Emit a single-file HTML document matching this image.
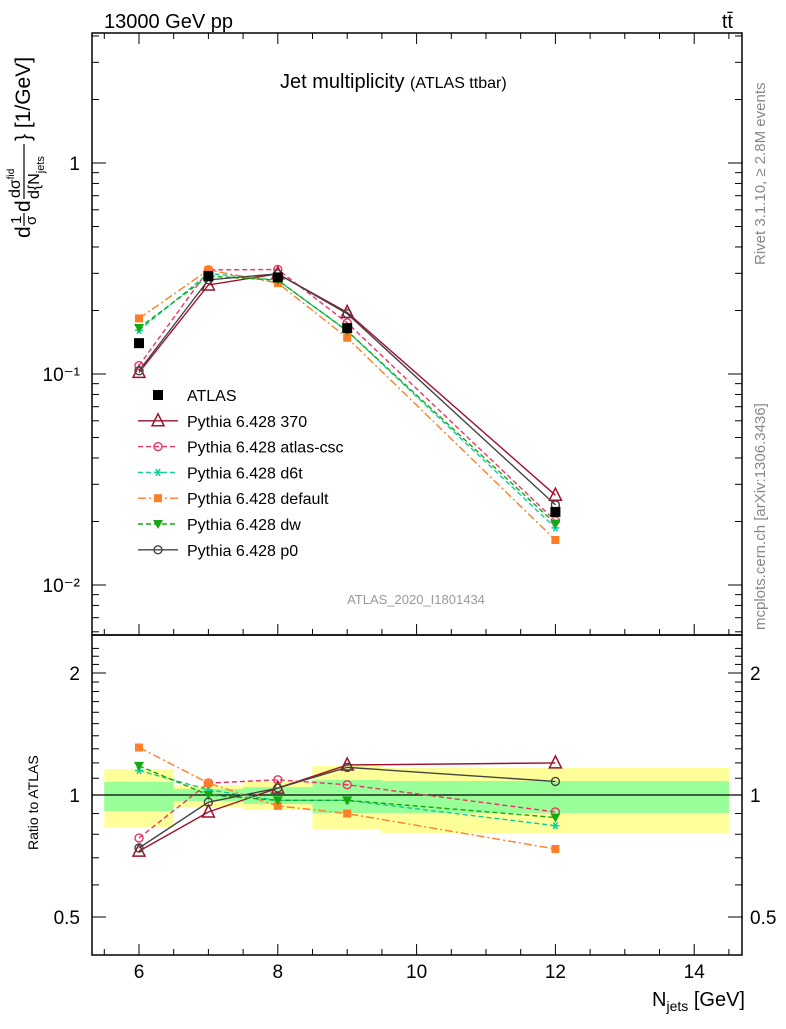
<!DOCTYPE html>
<html><head><meta charset="utf-8"><style>
body{margin:0;background:#fff;font-family:"Liberation Sans",sans-serif}
svg text{font-family:"Liberation Sans",sans-serif}
</style></head><body>
<svg id="c" width="786" height="1024" xmlns="http://www.w3.org/2000/svg">
<text x="104" y="28" font-size="20">13000 GeV pp</text>
<text x="733" y="28" font-size="20" text-anchor="end">tt̄</text>
<text x="280" y="88" font-size="20">Jet multiplicity <tspan font-size="16">(ATLAS ttbar)</tspan></text>
<text x="416" y="604" font-size="13" fill="#999" text-anchor="middle">ATLAS_2020_I1801434</text>
<text transform="translate(765,265) rotate(-90)" font-size="15" fill="#888">Rivet 3.1.10, ≥ 2.8M events</text>
<text transform="translate(765,630) rotate(-90)" font-size="15" fill="#888">mcplots.cern.ch [arXiv:1306.3436]</text>
<g transform="translate(0,240) rotate(-90)">
<text x="2" y="30" font-size="21">d</text>
<text x="16" y="21" font-size="15">1</text>
<line x1="14" x2="27" y1="24" y2="24" stroke="#000" stroke-width="1.2"/>
<text x="15" y="36" font-size="15">σ</text>
<text x="28" y="30" font-size="21">d</text>
<text x="42" y="20" font-size="16">dσ<tspan font-size="10" dy="-6">fid</tspan></text>
<line x1="41" x2="96" y1="24" y2="24" stroke="#000" stroke-width="1.2"/>
<text x="41" y="39" font-size="16">d{N<tspan font-size="11" dy="5">jets</tspan></text>
<text x="99" y="30" font-size="21">} [1/GeV]</text>
</g>
<text transform="translate(38,850) rotate(-90)" font-size="14">Ratio to ATLAS</text>
<text x="745" y="1006" font-size="20" text-anchor="end">N<tspan font-size="14" dy="5">jets</tspan><tspan dy="-5"> [GeV]</tspan></text>
</svg>
<script>
const xs=[6,7,8,9,12];
const atlas=[0.140,0.291,0.287,0.165,0.0222];
const r370=[0.727,0.908,1.04,1.186,1.2];
const rcsc=[0.783,1.07,1.09,1.06,0.908];
const rd6t=[1.15,1.03,0.97,0.97,0.84];
const rdef=[1.31,1.07,0.94,0.9,0.736];
const rdw=[1.18,1.0,0.97,0.97,0.88];
const rp0=[0.74,0.96,1.04,1.17,1.08];
const binEdges=[5.5,6.5,7.5,8.5,9.5,14.5];
const yelLo=[0.834,0.934,0.918,0.824,0.806];
const yelHi=[1.159,1.058,1.077,1.179,1.166];
const grnLo=[0.913,0.966,0.95,0.903,0.903];
const grnHi=[1.077,1.035,1.046,1.089,1.083];
const xTicks=[6,8,10,12,14];
const NS="http://www.w3.org/2000/svg";
const svg=document.getElementById('c');
const L=92,R=742,T=33,M=635,B=955;
const X=v=>139+(v-6)*69.4;
const Y=v=>163-Math.log10(v)*211;
const YR=v=>795-Math.log2(v)*122;
function mk(t,a,p){const e=document.createElementNS(NS,t);for(const k in a)e.setAttribute(k,a[k]);(p||svg).appendChild(e);return e;}
for(let i=0;i<5;i++){
 let e=mk('rect',{x:X(binEdges[i]),y:YR(yelHi[i]),width:X(binEdges[i+1])-X(binEdges[i]),height:YR(yelLo[i])-YR(yelHi[i]),fill:'#ffff99'});
 
 e=mk('rect',{x:X(binEdges[i]),y:YR(grnHi[i]),width:X(binEdges[i+1])-X(binEdges[i]),height:YR(grnLo[i])-YR(grnHi[i]),fill:'#99ff99'});
 
}
let ln=mk('line',{x1:L,x2:R,y1:YR(1),y2:YR(1),stroke:'#000','stroke-width':1.3});

let f=mk('rect',{x:L,y:T,width:R-L,height:M-T,fill:'none',stroke:'#000','stroke-width':1.5});

f=mk('rect',{x:L,y:M,width:R-L,height:B-M,fill:'none',stroke:'#000','stroke-width':1.5});

for(let v=5.5;v<=14.6;v+=0.5){const big=Number.isInteger(v)&&v%2==0;const len=big?11:6;
 for(const [a,b] of [[M,M-len],[T,T+len],[B,B-len]]) mk('line',{x1:X(v),x2:X(v),y1:a,y2:b,stroke:'#000'});}
xTicks.forEach(v=>{const t=mk('text',{x:X(v),y:978,'font-size':19,'text-anchor':'middle'});t.textContent=v;
 });
for(let d=-3;d<=0;d++)for(let m=1;m<10;m++){const v=m*Math.pow(10,d);const y=Y(v);if(y<T||y>M)continue;const len=m==1?14:7;
 mk('line',{x1:L,x2:L+len,y1:y,y2:y,stroke:'#000'});mk('line',{x1:R,x2:R-len,y1:y,y2:y,stroke:'#000'});}
[[1,'1'],[0.1,'10⁻¹'],[0.01,'10⁻²']].forEach(([v,s])=>{const t=mk('text',{x:80,y:Y(v)+7,'font-size':19,'text-anchor':'end'});t.textContent=s;
 });
for(let v=0.4;v<=2.4;v+=0.1){const y=YR(v);if(y<M||y>B)continue;const big=Math.abs(v-0.5)<1e-6||Math.abs(v-1)<1e-6||Math.abs(v-2)<1e-6;const len=big?14:7;
 mk('line',{x1:L,x2:L+len,y1:y,y2:y,stroke:'#000'});mk('line',{x1:R,x2:R-len,y1:y,y2:y,stroke:'#000'});}
[[2,'2'],[1,'1'],[0.5,'0.5']].forEach(([v,s])=>{for(const [x,a] of [[80,'end'],[750,'start']]){const t=mk('text',{x:x,y:YR(v)+7,'font-size':19,'text-anchor':a});t.textContent=s;
 }});
const series=[
 {n:'Pythia 6.428 370',r:r370,c:'#a0102a',d:'',m:'tri'},
 {n:'Pythia 6.428 atlas-csc',r:rcsc,c:'#ee3366',d:'5,3',m:'circ'},
 {n:'Pythia 6.428 d6t',r:rd6t,c:'#11cc99',d:'5,3',m:'star'},
 {n:'Pythia 6.428 default',r:rdef,c:'#ff7f27',d:'8,3,2,3',m:'sq'},
 {n:'Pythia 6.428 dw',r:rdw,c:'#11aa11',d:'5,3',m:'tridown'},
 {n:'Pythia 6.428 p0',r:rp0,c:'#444444',d:'',m:'circ'}];
function marker(g,m,x,y,c){
 if(m=='tri')mk('polygon',{points:`${x},${y-7} ${x-6},${y+5} ${x+6},${y+5}`,fill:'none',stroke:c,'stroke-width':1.5},g);
 else if(m=='tridown')mk('polygon',{points:`${x},${y+5} ${x-5},${y-4} ${x+5},${y-4}`,fill:c},g);
 else if(m=='circ')mk('circle',{cx:x,cy:y,r:4,fill:'none',stroke:c,'stroke-width':1.4},g);
 else if(m=='sq')mk('rect',{x:x-4,y:y-4,width:8,height:8,fill:c},g);
 else if(m=='star'){for(const a of [0,60,120])mk('line',{x1:x-4*Math.cos(a*Math.PI/180),y1:y-4*Math.sin(a*Math.PI/180),x2:x+4*Math.cos(a*Math.PI/180),y2:y+4*Math.sin(a*Math.PI/180),stroke:c,'stroke-width':1.5},g);}
 else if(m=='full')mk('rect',{x:x-5,y:y-5,width:10,height:10,fill:c},g);
}
series.forEach((s,si)=>{
 const g=mk('g',{});
 const main=xs.map((x,i)=>[X(x),Y(atlas[i]*s.r[i])]);
 const rat=xs.map((x,i)=>[X(x),YR(s.r[i])]);
 for(const pts of [main,rat]){
  mk('polyline',{points:pts.map(p=>p.join(',')).join(' '),fill:'none',stroke:s.c,'stroke-width':1.4,'stroke-dasharray':s.d},g);
  pts.forEach(p=>marker(g,s.m,p[0],p[1],s.c));}
 const ly=395+(si+1)*25.8;
 const lg=mk('g',{});
 mk('line',{x1:138,x2:178,y1:ly,y2:ly,stroke:s.c,'stroke-width':1.4,'stroke-dasharray':s.d},lg);
 marker(lg,s.m,158,ly,s.c);
 const t=mk('text',{x:187,y:ly+6,'font-size':16},lg);t.textContent=s.n;
});
const ga=mk('g',{});
xs.forEach((x,i)=>marker(ga,'full',X(x),Y(atlas[i]),'#000'));
const la=mk('g',{});
marker(la,'full',158,395,'#000');
const ta=mk('text',{x:187,y:401,'font-size':16},la);ta.textContent='ATLAS';
</script>
</body></html>
